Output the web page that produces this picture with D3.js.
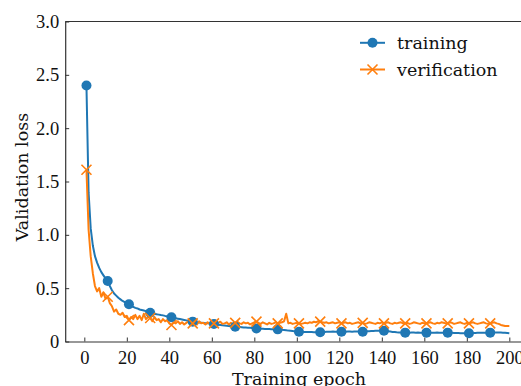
<!DOCTYPE html>
<html>
<head>
<meta charset="utf-8">
<script src="https://cdn.jsdelivr.net/npm/d3@7"></script>
<style>
  body { margin: 0; background: #fff; }
  svg { display: block; overflow: hidden; }
  .tick text { font-family: "Liberation Serif", serif; font-size: 18.5px; fill: #111; }
  .tick line { stroke: #333; stroke-width: 1; }
  .domain { stroke: #333; stroke-width: 1.2; }
  .lbl { font-family: "DejaVu Serif", serif; font-size: 17.5px; fill: #111; }
</style>
</head>
<body>
<script>
// training loss per epoch (1..200)
var training = [
  2.40, 1.40, 1.06, 0.90, 0.80, 0.74, 0.69, 0.65, 0.62, 0.59,
  0.567, 0.52, 0.48, 0.45, 0.43, 0.41, 0.395, 0.38, 0.37, 0.36,
  0.349, 0.335, 0.325, 0.315, 0.31, 0.30, 0.295, 0.29, 0.285, 0.278,
  0.27, 0.265, 0.26, 0.255, 0.252, 0.248, 0.245, 0.24, 0.237, 0.235,
  0.228, 0.222, 0.218, 0.214, 0.21, 0.206, 0.202, 0.198, 0.194, 0.19,
  0.186, 0.184, 0.18, 0.178, 0.176, 0.174, 0.172, 0.17, 0.168, 0.166,
  0.164, 0.16, 0.158, 0.155, 0.152, 0.15, 0.148, 0.146, 0.143, 0.141,
  0.139, 0.137, 0.136, 0.134, 0.132, 0.131, 0.13, 0.128, 0.126, 0.125,
  0.123, 0.122, 0.12, 0.119, 0.118, 0.118, 0.117, 0.116, 0.115, 0.115,
  0.114, 0.113, 0.11, 0.108, 0.105, 0.102, 0.1, 0.098, 0.095, 0.093,
  0.092, 0.091, 0.09, 0.09, 0.089, 0.088, 0.088, 0.087, 0.087, 0.086,
  0.086, 0.088, 0.09, 0.091, 0.092, 0.092, 0.093, 0.092, 0.092, 0.092,
  0.092, 0.093, 0.092, 0.094, 0.093, 0.092, 0.093, 0.094, 0.093, 0.092,
  0.092, 0.094, 0.095, 0.097, 0.098, 0.099, 0.1, 0.1, 0.101, 0.1,
  0.1, 0.098, 0.095, 0.093, 0.09, 0.088, 0.086, 0.085, 0.084, 0.083,
  0.083, 0.084, 0.083, 0.085, 0.084, 0.083, 0.084, 0.083, 0.082, 0.083,
  0.083, 0.084, 0.083, 0.082, 0.083, 0.084, 0.083, 0.082, 0.083, 0.083,
  0.083, 0.082, 0.081, 0.08, 0.079, 0.079, 0.078, 0.078, 0.077, 0.077,
  0.077, 0.078, 0.079, 0.08, 0.081, 0.082, 0.082, 0.083, 0.083, 0.083,
  0.083, 0.084, 0.084, 0.085, 0.085, 0.084, 0.083, 0.082, 0.08, 0.078
];

// verification loss per epoch (1..200)
var verification = [
  1.61, 1.05, 0.80, 0.64, 0.52, 0.47, 0.50, 0.42, 0.46, 0.40,
  0.42, 0.36, 0.33, 0.28, 0.30, 0.26, 0.25, 0.27, 0.23, 0.24,
  0.20, 0.23, 0.21, 0.25, 0.21, 0.24, 0.20, 0.26, 0.21, 0.23,
  0.22, 0.19, 0.23, 0.20, 0.21, 0.18, 0.21, 0.19, 0.20, 0.17,
  0.155, 0.18, 0.17, 0.19, 0.165, 0.18, 0.16, 0.175, 0.19, 0.165,
  0.17, 0.18, 0.16, 0.19, 0.17, 0.175, 0.16, 0.18, 0.165, 0.175,
  0.17, 0.16, 0.175, 0.185, 0.165, 0.17, 0.18, 0.16, 0.175, 0.165,
  0.175, 0.185, 0.17, 0.165, 0.18, 0.17, 0.175, 0.16, 0.17, 0.18,
  0.186, 0.175, 0.165, 0.18, 0.17, 0.16, 0.175, 0.165, 0.17, 0.18,
  0.17, 0.175, 0.18, 0.19, 0.26, 0.17, 0.175, 0.165, 0.17, 0.175,
  0.17, 0.165, 0.17, 0.175, 0.17, 0.18, 0.175, 0.185, 0.18, 0.19,
  0.186, 0.18, 0.175, 0.18, 0.17, 0.175, 0.18, 0.17, 0.175, 0.18,
  0.17, 0.175, 0.18, 0.17, 0.175, 0.165, 0.17, 0.175, 0.18, 0.17,
  0.175, 0.165, 0.17, 0.18, 0.175, 0.17, 0.165, 0.175, 0.17, 0.18,
  0.17, 0.175, 0.18, 0.17, 0.165, 0.175, 0.17, 0.175, 0.18, 0.17,
  0.17, 0.175, 0.165, 0.17, 0.18, 0.175, 0.17, 0.165, 0.175, 0.17,
  0.17, 0.175, 0.18, 0.17, 0.165, 0.175, 0.17, 0.18, 0.175, 0.17,
  0.17, 0.18, 0.175, 0.165, 0.17, 0.175, 0.18, 0.17, 0.165, 0.175,
  0.17, 0.175, 0.18, 0.17, 0.165, 0.17, 0.175, 0.18, 0.17, 0.165,
  0.17, 0.175, 0.18, 0.17, 0.165, 0.155, 0.15, 0.145, 0.145, 0.145
];

var xTicks = [0, 20, 40, 60, 80, 100, 120, 140, 160, 180, 200];
var yTicks = [0, 0.5, 1.0, 1.5, 2.0, 2.5, 3.0];
var yTickLabels = ["0", "0.5", "1.0", "1.5", "2.0", "2.5", "3.0"];

var seriesNames = ["training", "verification"];
var seriesColors = ["#1f77b4", "#ff7f0e"];

var width = 521, height = 386;
var plotLeft = 65.2, plotTop = 21.5, plotBottom = 341.5;

var svg = d3.select("body").append("svg")
    .attr("width", width)
    .attr("height", height);

// x from -9 to 210 like matplotlib margins, right part falls outside the picture
var x = d3.scaleLinear().domain([-9, 210]).range([plotLeft, plotLeft + 219 * 2.125]);
var y = d3.scaleLinear().domain([0, 3]).range([plotBottom, plotTop]);
var plotRight = x.range()[1];

svg.append("clipPath").attr("id", "plot")
  .append("rect")
    .attr("x", plotLeft).attr("y", plotTop)
    .attr("width", plotRight - plotLeft).attr("height", plotBottom - plotTop);

// axes, ticks pointing inward
svg.append("g")
    .attr("transform", "translate(0," + plotBottom + ")")
    .call(d3.axisBottom(x).tickValues(xTicks).tickSizeInner(-4).tickSizeOuter(0).tickPadding(9));

svg.append("g")
    .attr("transform", "translate(" + plotLeft + ",0)")
    .call(d3.axisLeft(y).tickValues(yTicks)
        .tickFormat(function(d, i) { return yTickLabels[i]; })
        .tickSizeInner(-4).tickSizeOuter(0).tickPadding(6));

// top and right spines
svg.append("line")
    .attr("x1", plotLeft).attr("x2", plotRight)
    .attr("y1", plotTop).attr("y2", plotTop)
    .attr("stroke", "#333").attr("stroke-width", 1.2);
svg.append("line")
    .attr("x1", plotRight).attr("x2", plotRight)
    .attr("y1", plotTop).attr("y2", plotBottom)
    .attr("stroke", "#333").attr("stroke-width", 1.2);

var epochs = d3.range(1, training.length + 1);
var line = function(vals) {
    return d3.line()
        .x(function(d, i) { return x(epochs[i]); })
        .y(function(d) { return y(d); })(vals);
};

var plot = svg.append("g").attr("clip-path", "url(#plot)");

// lines (orange drawn after blue like matplotlib order)
[training, verification].forEach(function(vals, k) {
    plot.append("path")
        .attr("d", line(vals))
        .attr("fill", "none")
        .attr("stroke", seriesColors[k])
        .attr("stroke-width", 2)
        .attr("stroke-linejoin", "round");
});

// markers every 10 epochs, starting at epoch 1
var every = epochs.filter(function(e) { return (e - 1) % 10 === 0; });

plot.selectAll(".dot")
    .data(every)
    .enter().append("circle")
    .attr("class", "dot")
    .attr("cx", function(e) { return x(e); })
    .attr("cy", function(e) { return y(training[e - 1]); })
    .attr("r", 5)
    .attr("fill", seriesColors[0]);

var cross = function(sel, s) {
    sel.append("path")
        .attr("d", "M" + (-s) + "," + (-s) + "L" + s + "," + s + "M" + (-s) + "," + s + "L" + s + "," + (-s))
        .attr("stroke", seriesColors[1])
        .attr("stroke-width", 1.6)
        .attr("fill", "none");
};

plot.selectAll(".xmark")
    .data(every)
    .enter().append("g")
    .attr("class", "xmark")
    .attr("transform", function(e) { return "translate(" + x(e) + "," + y(verification[e - 1]) + ")"; })
    .call(cross, 5);

// legend
var legend = svg.append("g");
var rows = [42.8, 69.5];
seriesNames.forEach(function(name, k) {
    var g = legend.append("g").attr("transform", "translate(360," + rows[k] + ")");
    g.append("line")
        .attr("x1", 0).attr("x2", 25)
        .attr("stroke", seriesColors[k]).attr("stroke-width", 2);
    if (k === 0) {
        g.append("circle").attr("cx", 12.5).attr("r", 5).attr("fill", seriesColors[0]);
    } else {
        var m = g.append("g").attr("transform", "translate(12.5,0)");
        cross(m, 5);
    }
    g.append("text")
        .attr("class", "lbl")
        .attr("x", 37)
        .attr("y", 6.5)
        .text(name);
});

// axis labels
svg.append("text")
    .attr("class", "lbl")
    .attr("x", 299)
    .attr("y", 384.5)
    .attr("text-anchor", "middle")
    .text("Training epoch");

svg.append("text")
    .attr("class", "lbl")
    .attr("transform", "translate(28,177) rotate(-90)")
    .attr("text-anchor", "middle")
    .text("Validation loss");
</script>
</body>
</html>
